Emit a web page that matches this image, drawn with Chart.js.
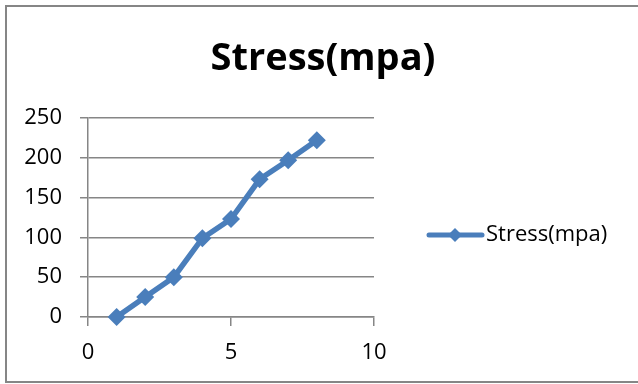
<!DOCTYPE html>
<html>
<head>
<meta charset="utf-8">
<script src="https://cdn.jsdelivr.net/npm/chart.js@4.4.1/dist/chart.umd.min.js"></script>
<style>
  html, body { margin: 0; padding: 0; background: #fff; }
  canvas { display: block; }
</style>
</head>
<body>
<canvas id="stressChart" width="638" height="384"></canvas>
<script>
// === DONNEES ===
const titre = 'Stress(mpa)';
const serieNom = 'Stress(mpa)';
const xValeurs = [1, 2, 3, 4, 5, 6, 7, 8];
const stressValeurs = [0, 25, 50, 99, 123, 173, 197, 222];
const yTicks = [0, 50, 100, 150, 200, 250];
const xTicks = [0, 5, 10];

const bleu = '#4A7EBB';
const gris = '#868686';
const police = '"Open Sans", Lato, sans-serif';

// Cadre, titre et legende facon Excel
const cadreExcel = {
  id: 'cadreExcel',
  afterDraw(chart) {
    const ctx = chart.ctx;
    ctx.save();

    // cadre
    ctx.strokeStyle = gris;
    ctx.lineWidth = 2;
    ctx.beginPath();
    ctx.moveTo(640, 6);
    ctx.lineTo(6, 6);
    ctx.lineTo(6, 382);
    ctx.lineTo(640, 382);
    ctx.stroke();

    // titre
    ctx.fillStyle = '#000';
    ctx.font = 'bold 38px ' + police;
    ctx.textAlign = 'center';
    ctx.textBaseline = 'alphabetic';
    ctx.fillText(titre, 323, 70);

    // legende
    const ly = 235;
    ctx.strokeStyle = bleu;
    ctx.lineWidth = 5;
    ctx.lineCap = 'round';
    ctx.beginPath();
    ctx.moveTo(429, ly);
    ctx.lineTo(482, ly);
    ctx.stroke();
    ctx.fillStyle = bleu;
    ctx.beginPath();
    ctx.moveTo(455, ly - 7);
    ctx.lineTo(462, ly);
    ctx.lineTo(455, ly + 7);
    ctx.lineTo(448, ly);
    ctx.closePath();
    ctx.fill();

    ctx.fillStyle = '#000';
    ctx.font = '22px ' + police;
    ctx.textAlign = 'left';
    ctx.textBaseline = 'middle';
    ctx.fillText(serieNom, 486, ly);

    ctx.restore();
  }
};

const ctx = document.getElementById('stressChart').getContext('2d');
new Chart(ctx, {
  type: 'line',
  data: {
    datasets: [{
      label: serieNom,
      data: xValeurs.map((x, i) => ({ x: x, y: stressValeurs[i] })),
      borderColor: bleu,
      backgroundColor: bleu,
      borderWidth: 5.5,
      pointStyle: 'rectRot',
      pointRadius: 9,
      pointHoverRadius: 9,
      pointBorderWidth: 0,
      pointBackgroundColor: bleu,
      tension: 0,
      fill: false,
      clip: false
    }]
  },
  options: {
    responsive: false,
    animation: false,
    events: [],
    layout: {
      padding: { top: 118, right: 264, left: 0, bottom: 0 }
    },
    plugins: {
      legend: { display: false },
      title: { display: false },
      tooltip: { enabled: false }
    },
    scales: {
      x: {
        type: 'linear',
        min: 0,
        max: 10,
        afterBuildTicks: scale => { scale.ticks = xTicks.map(v => ({ value: v })); },
        afterFit: scale => { scale.height = 67; },
        grid: {
          drawOnChartArea: false,
          drawTicks: true,
          tickLength: 9,
          color: gris,
          lineWidth: 1.5
        },
        border: { display: true, color: gris, width: 1.5 },
        ticks: {
          color: '#000',
          padding: 14,
          maxRotation: 0,
          font: { family: police, size: 22 }
        }
      },
      y: {
        min: 0,
        max: 250,
        afterBuildTicks: scale => { scale.ticks = yTicks.map(v => ({ value: v })); },
        afterFit: scale => { scale.width = 88; },
        grid: {
          drawOnChartArea: true,
          drawTicks: true,
          tickLength: 8,
          color: gris,
          lineWidth: 1.5
        },
        border: { display: true, color: gris, width: 1.5 },
        ticks: {
          color: '#000',
          padding: 18,
          font: { family: police, size: 22 }
        }
      }
    }
  },
  plugins: [cadreExcel]
});
</script>
</body>
</html>
